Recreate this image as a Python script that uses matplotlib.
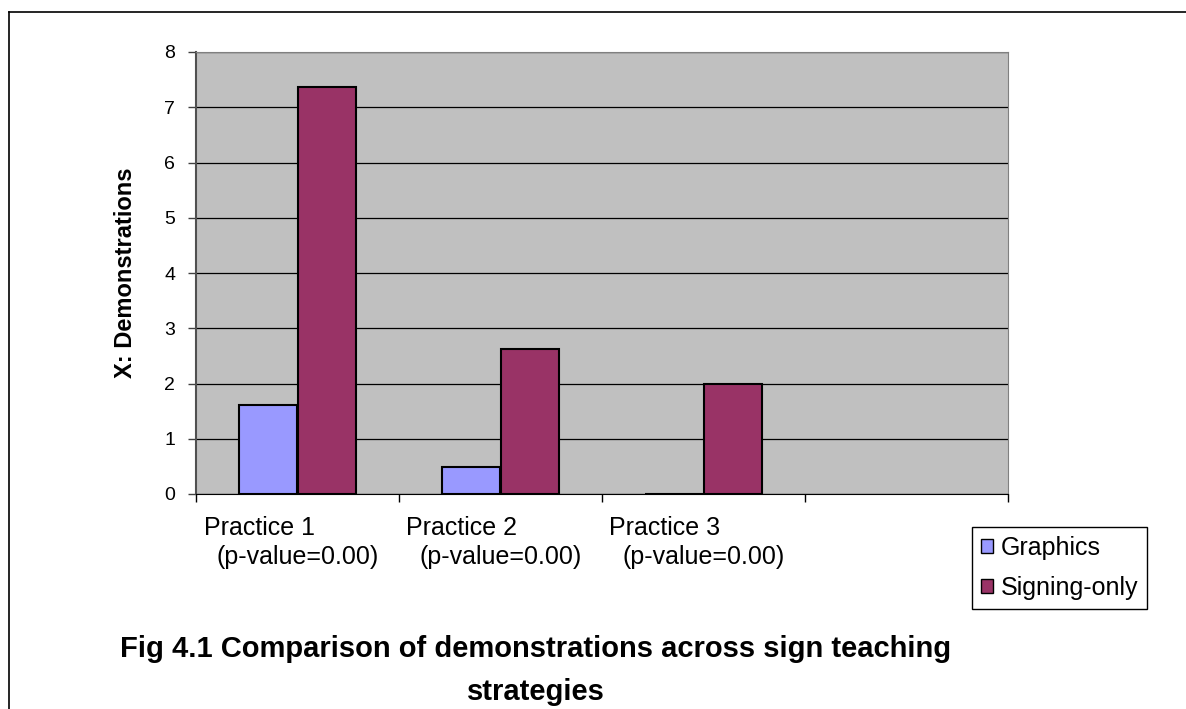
import matplotlib
matplotlib.use("Agg")
import matplotlib.pyplot as plt
from matplotlib.lines import Line2D
import numpy as np

plt.rcParams['font.family'] = ['Liberation Sans', 'DejaVu Sans']

# data
categories = ["Practice 1", "Practice 2", "Practice 3"]
p_values = ["(p-value=0.00)", "(p-value=0.00)", "(p-value=0.00)"]
graphics = [1.61, 0.48, 0.0]
signing_only = [7.37, 2.62, 2.0]
series_names = ["Graphics", "Signing-only"]
y_ticks = [0, 1, 2, 3, 4, 5, 6, 7, 8]
n_slots = 4  # the chart keeps one empty category on the right

W, H = 1186, 709
fig = plt.figure(figsize=(W / 100, H / 100), dpi=100)
ax = fig.add_axes([196 / W, 1 - 494 / H, 812 / W, 442 / H])
ax.set_facecolor('#C0C0C0')

x = np.arange(len(categories)) + 0.5
bw = 0.288
ax.bar(x - bw / 2, graphics, bw, color='#9999FF', edgecolor='black', linewidth=1.5,
       label=series_names[0], zorder=3)
ax.bar(x + bw / 2, signing_only, bw, color='#993366', edgecolor='black', linewidth=1.5,
       label=series_names[1], zorder=3)

ax.set_xlim(0, n_slots)
ax.set_ylim(0, 8)
ax.set_yticks(y_ticks)
ax.yaxis.grid(True, color='black', linewidth=0.9, zorder=1)
ax.set_axisbelow(True)

# category boundaries get the tick marks, the centres get the labels
ax.set_xticks(np.arange(n_slots + 1))
ax.set_xticklabels([])
ax.set_xticks(x, minor=True)
labels = [c + " " * 11 + "\n" + p for c, p in zip(categories, p_values)]
ax.set_xticklabels(labels, minor=True, fontsize=18, linespacing=1.25)
ax.tick_params(axis='x', which='major', direction='out', length=6, width=1, color='black')
ax.tick_params(axis='x', which='minor', length=0, pad=16)
ax.tick_params(axis='y', direction='out', length=6, width=1, color='#404040',
               labelsize=14, pad=9)

ax.spines['bottom'].set_color('black')
ax.spines['left'].set_color('#505050')
ax.spines['left'].set_linewidth(1.5)
ax.spines['top'].set_color('#808080')
ax.spines['right'].set_color('#808080')

ax.set_ylabel("X: Demonstrations", fontsize=17, fontweight='bold')
ax.yaxis.set_label_coords(-0.073, 0.5)

leg = fig.legend(loc='upper left', bbox_to_anchor=(972 / W, 1 - 527 / H), fontsize=18,
                 frameon=True, fancybox=False, edgecolor='black', framealpha=1,
                 handlelength=0.5, handleheight=0.5, handletextpad=0.3,
                 borderpad=0.35, labelspacing=0.65, borderaxespad=0)
leg.get_frame().set_linewidth(1)
for h in leg.legend_handles:
    h.set_linewidth(1)

fig.text(536 / W, 1 - 706 / H, "Fig 4.1 Comparison of demonstrations across sign teaching\nstrategies",
         ha='center', va='bottom', fontsize=21, fontweight='bold', linespacing=1.7)

# page frame lines (top and left)
fig.add_artist(Line2D([9 / W, 1], [1 - 12 / H, 1 - 12 / H], transform=fig.transFigure,
                      color='black', linewidth=1.2))
fig.add_artist(Line2D([9 / W, 9 / W], [0, 1 - 12 / H], transform=fig.transFigure,
                      color='black', linewidth=1.2))

fig.savefig("out.png", dpi=100)
